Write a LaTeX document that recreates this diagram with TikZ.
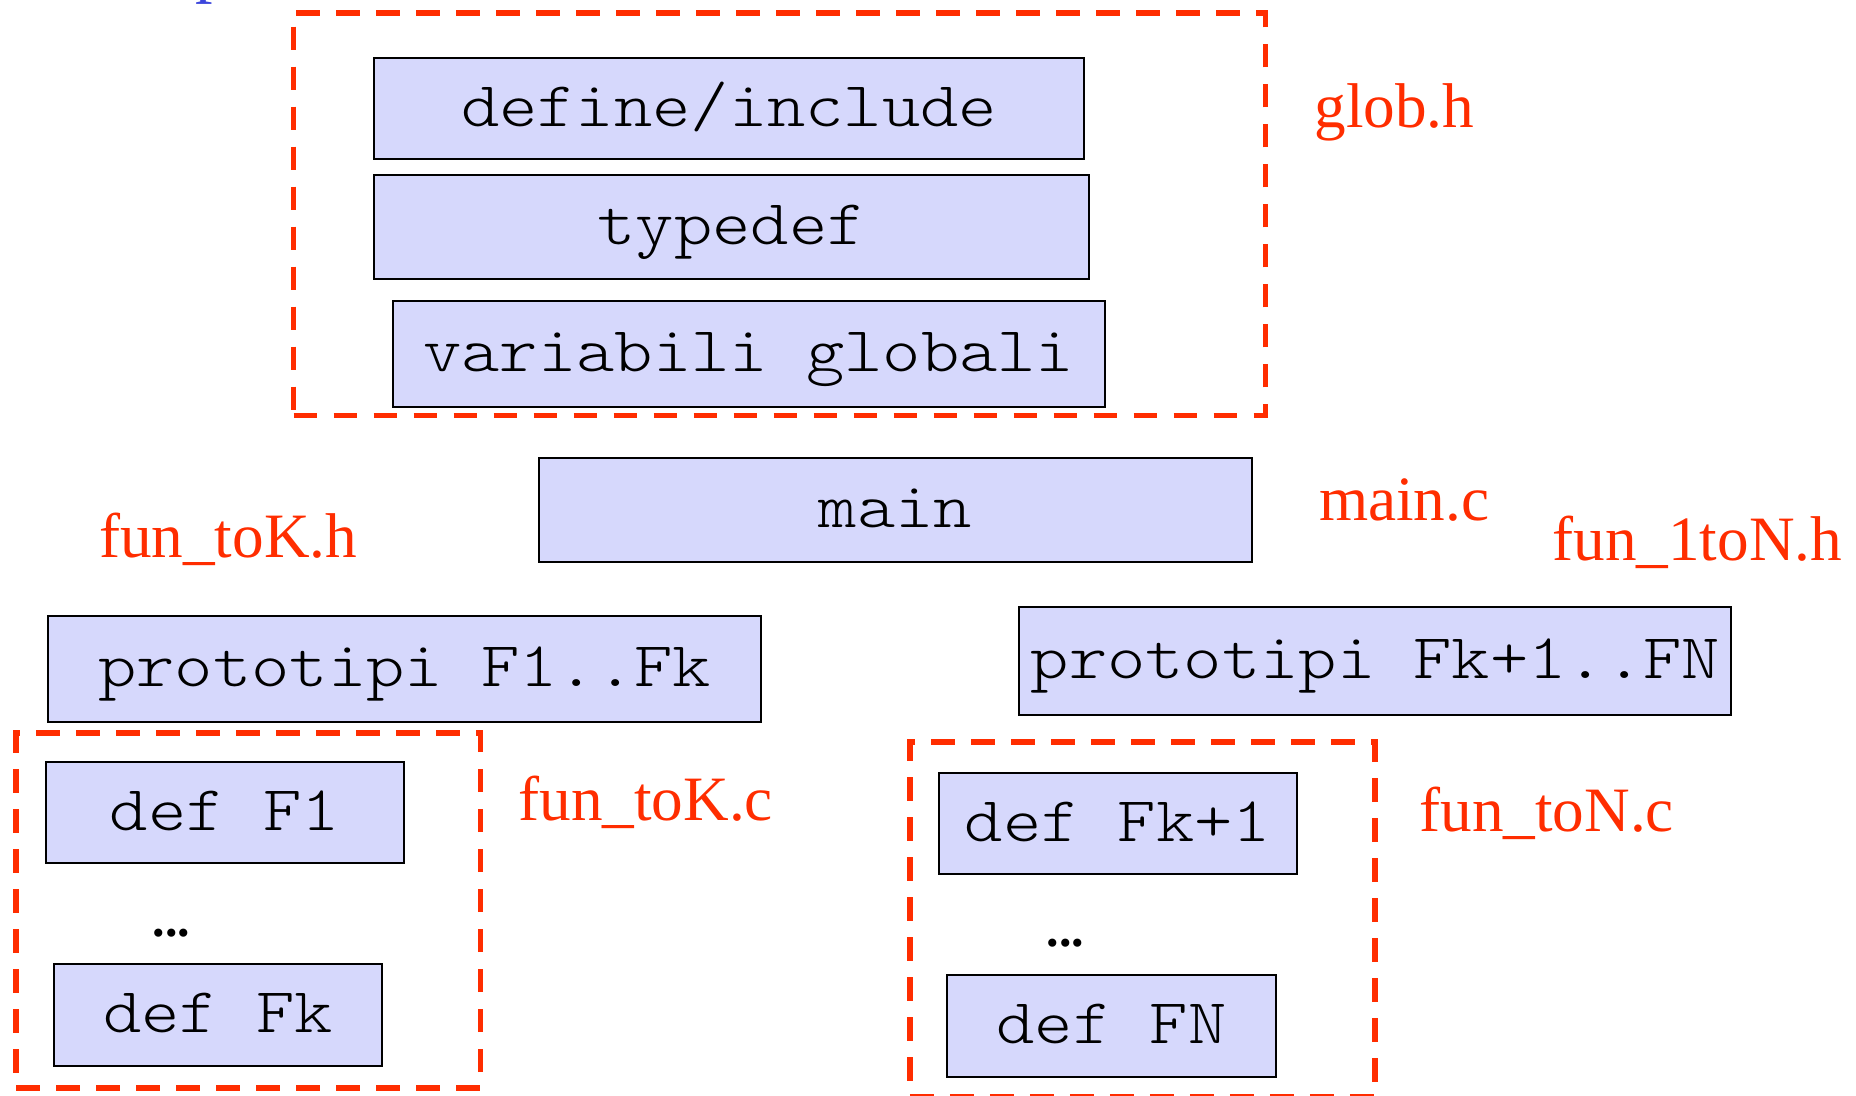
\documentclass[tikz,border=0pt]{standalone}
\usepackage{fontspec}
\setmainfont{Liberation Serif}
\newfontfamily\codefont{lmmonolt10-regular}[Extension=.otf, FakeStretch=1.143]
\usetikzlibrary{fit}
\definecolor{boxfill}{RGB}{214,216,252}
\definecolor{filered}{RGB}{255,45,0}
\definecolor{titleblue}{RGB}{60,70,220}

\begin{document}
\begin{tikzpicture}[x=0.5pt,y=-0.5pt,
  codebox/.style={draw=black, line width=1pt, fill=boxfill, inner sep=0pt,
    font=\codefont\fontsize{31.9}{38}\selectfont, text height=17.5pt, text depth=0pt},
  filelabel/.style={anchor=base west, inner sep=0pt, text=filered,
    font=\fontsize{31.6}{38}\selectfont},
  fileframe/.style={draw=filered, line width=2.8pt, dash pattern=on 11.8pt off 8.2pt,
    inner sep=0pt},
  moredots/.style={anchor=base, inner sep=0pt, font=\bfseries\fontsize{25}{30}\selectfont}]
\useasboundingbox (0,0) rectangle (1856,1096);

% remains of the heading above the page edge
\begin{scope}
  \clip (0,0) rectangle (1856,1096);
  \node[anchor=base west, inner sep=0pt, text=titleblue, font=\fontsize{35}{40}\selectfont]
    (headfrag) at (195,-10.2) {p};
\end{scope}

% glob.h
\node[codebox, minimum width=354.6pt, minimum height=50.65pt] (defs) at (729,108.7) {define/include};
\node[codebox, minimum width=357.15pt, minimum height=52.15pt] (types) at (731.6,227.2) {typedef};
\node[codebox, minimum width=355.85pt, minimum height=53.3pt] (globals) at (748.8,354) {variabili globali};
\node[fileframe, fit={(293.5,13) (1265.4,415.5)}] (globframe) {};
\node[filelabel] (globlabel) at (1314,128) {glob.h};

% main.c
\node[codebox, minimum width=356.25pt, minimum height=51.7pt] (mainbox) at (895.3,510.1) {main};
\node[filelabel] (mainlabel) at (1318.7,520.8) {main.c};

% headers with prototypes
\node[filelabel] (hklabel) at (98.7,557) {fun\_toK.h};
\node[codebox, minimum width=356.5pt, minimum height=52.95pt] (protok) at (404.7,668.7) {prototipi F1..Fk};
\node[filelabel] (hnlabel) at (1552,560.5) {fun\_1toN.h};
\node[codebox, minimum width=355.95pt, minimum height=53.55pt] (proton) at (1375.4,661) {prototipi Fk+1..FN};

% fun_toK.c
\node[fileframe, fit={(16,732.9) (480.5,1087.7)}] (kframe) {};
\node[codebox, minimum width=178.85pt, minimum height=50.6pt] (deff1) at (224.8,812.8) {def F1};
\node[moredots] (kdots) at (171.5,936) {...};
\node[codebox, minimum width=163.85pt, minimum height=51pt] (deffk) at (217.9,1015.3) {def Fk};
\node[filelabel] (cklabel) at (518,820.8) {fun\_toK.c};

% fun_toN.c
\node[fileframe, fit={(909.9,742) (1374.7,1097)}] (nframe) {};
\node[codebox, minimum width=178.9pt, minimum height=50.85pt] (deffk1) at (1118,823.5) {def Fk+1};
\node[moredots] (ndots) at (1065.4,946.3) {...};
\node[codebox, minimum width=164.3pt, minimum height=51.05pt] (deffn) at (1111.5,1025.8) {def FN};
\node[filelabel] (cnlabel) at (1419,831.2) {fun\_toN.c};
\end{tikzpicture}
\end{document}
